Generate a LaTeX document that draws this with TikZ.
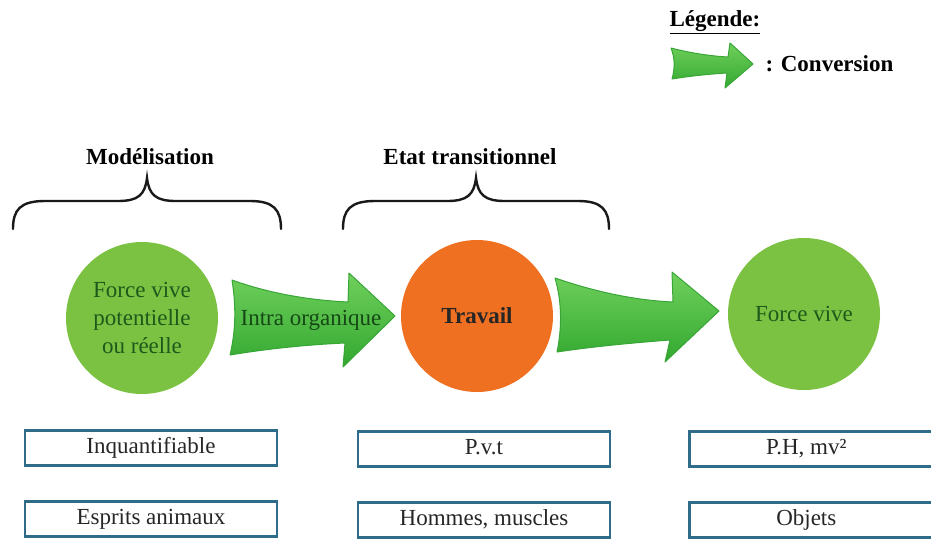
\documentclass[tikz,border=0pt]{standalone}
\usepackage{fontspec}
\setmainfont{Liberation Serif}
\begin{document}
\begin{tikzpicture}[x=1pt,y=-1pt,
  txt/.style={font=\fontsize{23}{28}\selectfont},
  btxt/.style={font=\fontsize{23}{28}\selectfont\bfseries},
  bubble/.style={circle,minimum size=152pt,inner sep=0pt,align=center,txt},
  greenbub/.style={bubble,fill=cgreen,text=ctext},
  infobox/.style={draw=cbox,line width=2.6pt,rectangle,minimum height=35pt,inner sep=0pt,text height=16pt,text depth=5pt,txt,text=black!85},
  bracel/.style={line width=2.4pt,black!90,line cap=round},
  bigarrow/.style={top color=alight,bottom color=adark,draw=aedge,line width=1pt,line join=round}
]
\definecolor{cgreen}{RGB}{124,194,66}
\definecolor{ctext}{RGB}{28,90,28}
\definecolor{corange}{RGB}{240,112,34}
\definecolor{cbox}{RGB}{46,108,138}
\definecolor{alight}{RGB}{112,208,92}
\definecolor{adark}{RGB}{50,168,48}
\definecolor{aedge}{RGB}{56,166,54}
\useasboundingbox (0,0) rectangle (931,539);

% Legend
\node[btxt,anchor=west] (leg) at (666,22) {\underline{Légende:}};
\shade[bigarrow] (671,48) .. controls (690,53) and (710,56) .. (728,57) -- (730,43) -- (753,64) -- (725,88) -- (727,73) .. controls (710,74) and (690,76) .. (672,79) .. controls (675,68) and (675,58) .. cycle;
\node[btxt,anchor=west] (conv) at (762,64) {: Conversion};

% Braces
\node[btxt] (mod) at (150,157) {Modélisation};
\coordinate (b1tip) at (147,178);
\draw[bracel] (13,229) .. controls (13,210) and (20,201) .. (45,201) -- (118,201) .. controls (138,201) and (145,195) .. (b1tip) .. controls (149,195) and (156,201) .. (176,201) -- (250,201) .. controls (274,201) and (281,210) .. (281,229);
\node[btxt] (etat) at (470,157) {Etat transitionnel};
\coordinate (b2tip) at (476,178);
\draw[bracel] (343,229) .. controls (343,210) and (350,201) .. (375,201) -- (447,201) .. controls (467,201) and (474,195) .. (b2tip) .. controls (478,195) and (485,201) .. (505,201) -- (578,201) .. controls (602,201) and (609,210) .. (609,229);

% Circles
\node[greenbub] (c1) at (142,318) {Force vive\\potentielle\\ou réelle};
\node[bubble,fill=corange,btxt,text=black!85] (c2) at (477,316) {Travail};
\node[greenbub] (c3) at (804,314) {Force vive};

% Arrows
\shade[bigarrow] (232,280) .. controls (265,292) and (305,300) .. (348,302) -- (349,273) -- (395,316) -- (343,367) -- (345,343) .. controls (300,345) and (260,350) .. (230,355) .. controls (236,330) and (236,305) .. cycle;
\node[txt,text=ctext!80!black] (intra) at (311,320) {Intra organique};
\shade[bigarrow] (555,278) .. controls (590,290) and (630,300) .. (673,302) -- (672,272) -- (719,311) -- (665,362) -- (670,340) .. controls (630,343) and (590,347) .. (557,352) .. controls (562,328) and (562,302) .. cycle;

% Boxes
\node[infobox,minimum width=252pt] (b11) at (151,448) {Inquantifiable};
\node[infobox,minimum width=252pt] (b12) at (484,449) {P.v.t};
\node[infobox,minimum width=252pt,anchor=west] (b13) at (688,449) {\hspace*{-18pt}P.H, mv²};
\node[infobox,minimum width=252pt] (b21) at (151,519) {Esprits animaux};
\node[infobox,minimum width=252pt] (b22) at (484,520) {Hommes, muscles};
\node[infobox,minimum width=252pt,anchor=west] (b23) at (688,520) {\hspace*{-18pt}Objets};
\end{tikzpicture}
\end{document}
